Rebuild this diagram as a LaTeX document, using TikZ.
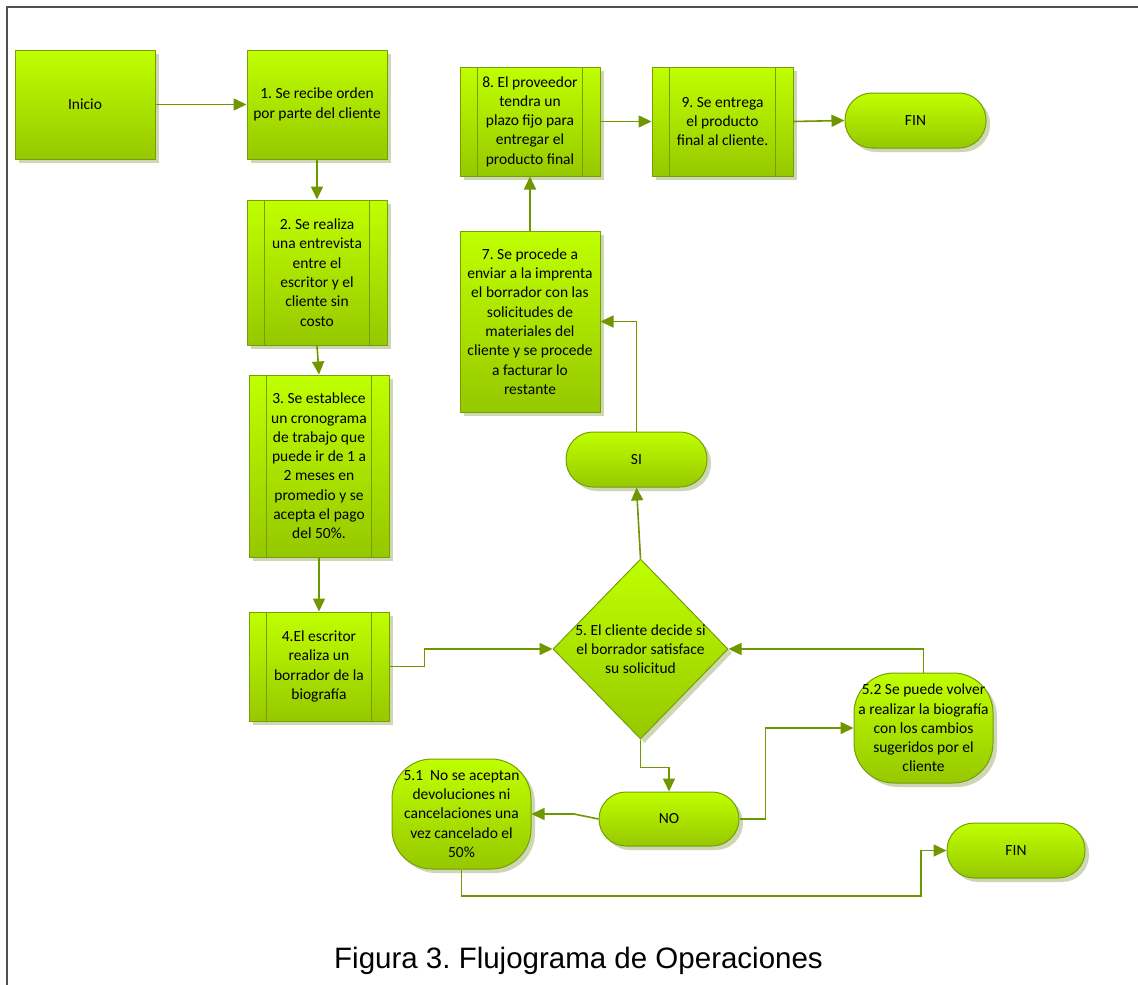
\documentclass[tikz,border=0pt]{standalone}
\usepackage{fontspec}
\setmainfont{Carlito}
\newfontfamily\capfont{Liberation Sans}
\usetikzlibrary{shapes.geometric,arrows.meta,shadows}
\definecolor{gtop}{RGB}{192,255,0}
\definecolor{gbot}{RGB}{150,200,0}
\definecolor{gedge}{RGB}{118,158,10}
\definecolor{garrow}{RGB}{112,150,0}
\definecolor{shc}{RGB}{205,215,180}
\definecolor{framec}{RGB}{80,80,80}
\frenchspacing
\begin{document}
\begin{tikzpicture}[x=1pt,y=-1pt,
 base/.style={draw=gedge, line width=1pt, top color=gtop, bottom color=gbot,
   drop shadow={shadow xshift=4pt,shadow yshift=-4pt,fill=shc,opacity=1},
   inner sep=0pt, align=center, font=\fontsize{15.5}{19.3}\selectfont, text=black},
 proc/.style={base, rectangle},
 term/.style={base, rectangle, rounded corners=27pt},
 oval/.style={base, rectangle, rounded corners=40pt},
 dec/.style={base, diamond},
 conn/.style={draw=garrow, line width=1.6pt, -{Triangle[length=13pt,width=12pt]}},
 inner/.style={draw=gedge, line width=1pt},
]
\useasboundingbox (0,0) rectangle (1138,985);
\fill[white] (0,0) rectangle (1138,985);
\draw[framec, line width=2pt] (7,990) -- (7,7) -- (1142,7);

\node[proc, minimum width=140pt, minimum height=109pt] (inicio) at (85,104.5) {Inicio};
\node[proc, minimum width=140pt, minimum height=109pt] (b1) at (317,104.5) {1. Se recibe orden\\por parte del cliente};
\node[proc, minimum width=140pt, minimum height=145pt] (b2) at (317,272.5) {2. Se realiza\\una entrevista\\entre el\\escritor y el\\cliente sin\\costo};
\node[proc, minimum width=140pt, minimum height=182pt] (b3) at (319,466) {3. Se establece\\un cronograma\\de trabajo que\\puede ir de 1 a\\2 meses en\\promedio y se\\acepta el pago\\del 50\%.};
\node[proc, minimum width=140pt, minimum height=109pt] (b4) at (319,666.5) {4.El escritor\\realiza un\\borrador de la\\biografía};
\node[proc, minimum width=140pt, minimum height=181pt] (b7) at (530,321.5) {7. Se procede a\\enviar a la imprenta\\el borrador con las\\solicitudes de\\materiales del\\cliente y se procede\\a facturar lo\\restante};
\node[proc, minimum width=140pt, minimum height=109pt] (b8) at (530,121.5) {8. El proveedor\\tendra un\\plazo fijo para\\entregar el\\producto final};
\node[proc, minimum width=141pt, minimum height=109pt] (b9) at (722.5,121.5) {9. Se entrega\\el producto\\final al cliente.};
\node[term, minimum width=141pt, minimum height=55pt] (fin1) at (915.5,120.5) {FIN};
\node[term, minimum width=141pt, minimum height=55pt] (si) at (636.5,459.5) {SI};
\node[dec, minimum width=175pt, minimum height=180pt] (d5) at (640.5,649) {};
\node[font=\fontsize{15.5}{19.3}\selectfont, align=center, inner sep=0pt] (d5t) at (d5.center) {5. El cliente decide si\\el borrador satisface\\su solicitud};
\node[term, minimum width=140pt, minimum height=54pt] (no) at (669,819) {NO};
\node[oval, minimum width=139pt, minimum height=110pt] (b52) at (923.5,728) {5.2 Se puede volver\\a realizar la biografía\\con los cambios\\sugeridos por el\\cliente};
\node[oval, minimum width=139pt, minimum height=110pt] (b51) at (461.5,814) {5.1\ \ No se aceptan\\devoluciones ni\\cancelaciones una\\vez cancelado el\\50\%};
\node[term, minimum width=138pt, minimum height=55pt] (fin2) at (1016,850.5) {FIN};

\foreach \n in {b2,b3,b4,b8,b9} {
  \draw[inner] ([xshift=18pt]\n.north west) -- ([xshift=18pt]\n.south west);
  \draw[inner] ([xshift=-18pt]\n.north east) -- ([xshift=-18pt]\n.south east);
}

\coordinate (k1) at (574,814);
\coordinate (k2) at (921,896);

\draw[conn] (inicio.east) -- (b1.west);
\draw[conn] (b1.south) -- (b2.north);
\draw[conn] (b2.south) -- (b3.north);
\draw[conn] (b3.south) -- (b4.north);
\draw[conn] (b4.east) -- ++(35,0) |- (d5.west);
\draw[conn] (d5.north) -- (si.south);
\draw[conn] (si.north) |- (b7.east);
\draw[conn] (b7.north) -- (b8.south);
\draw[conn] (b8.east) -- (b9.west);
\draw[conn] (b9.east) -- (fin1.west);
\draw[conn] (d5.south) -- ++(0,28) -| (no.north);
\draw[conn] (no.east) -- ++(26,0) |- (b52.west);
\draw[conn] (b52.north) |- (d5.east);
\draw[conn] (no.west) -- (k1) -- (b51.east);
\draw[conn] (b51.south) |- (k2) |- (fin2.west);

\node[font=\capfont\fontsize{29.5}{34}\selectfont, anchor=base, inner sep=0pt] (cap) at (578.5,968) {Figura 3. Flujograma de Operaciones};
\end{tikzpicture}
\end{document}
